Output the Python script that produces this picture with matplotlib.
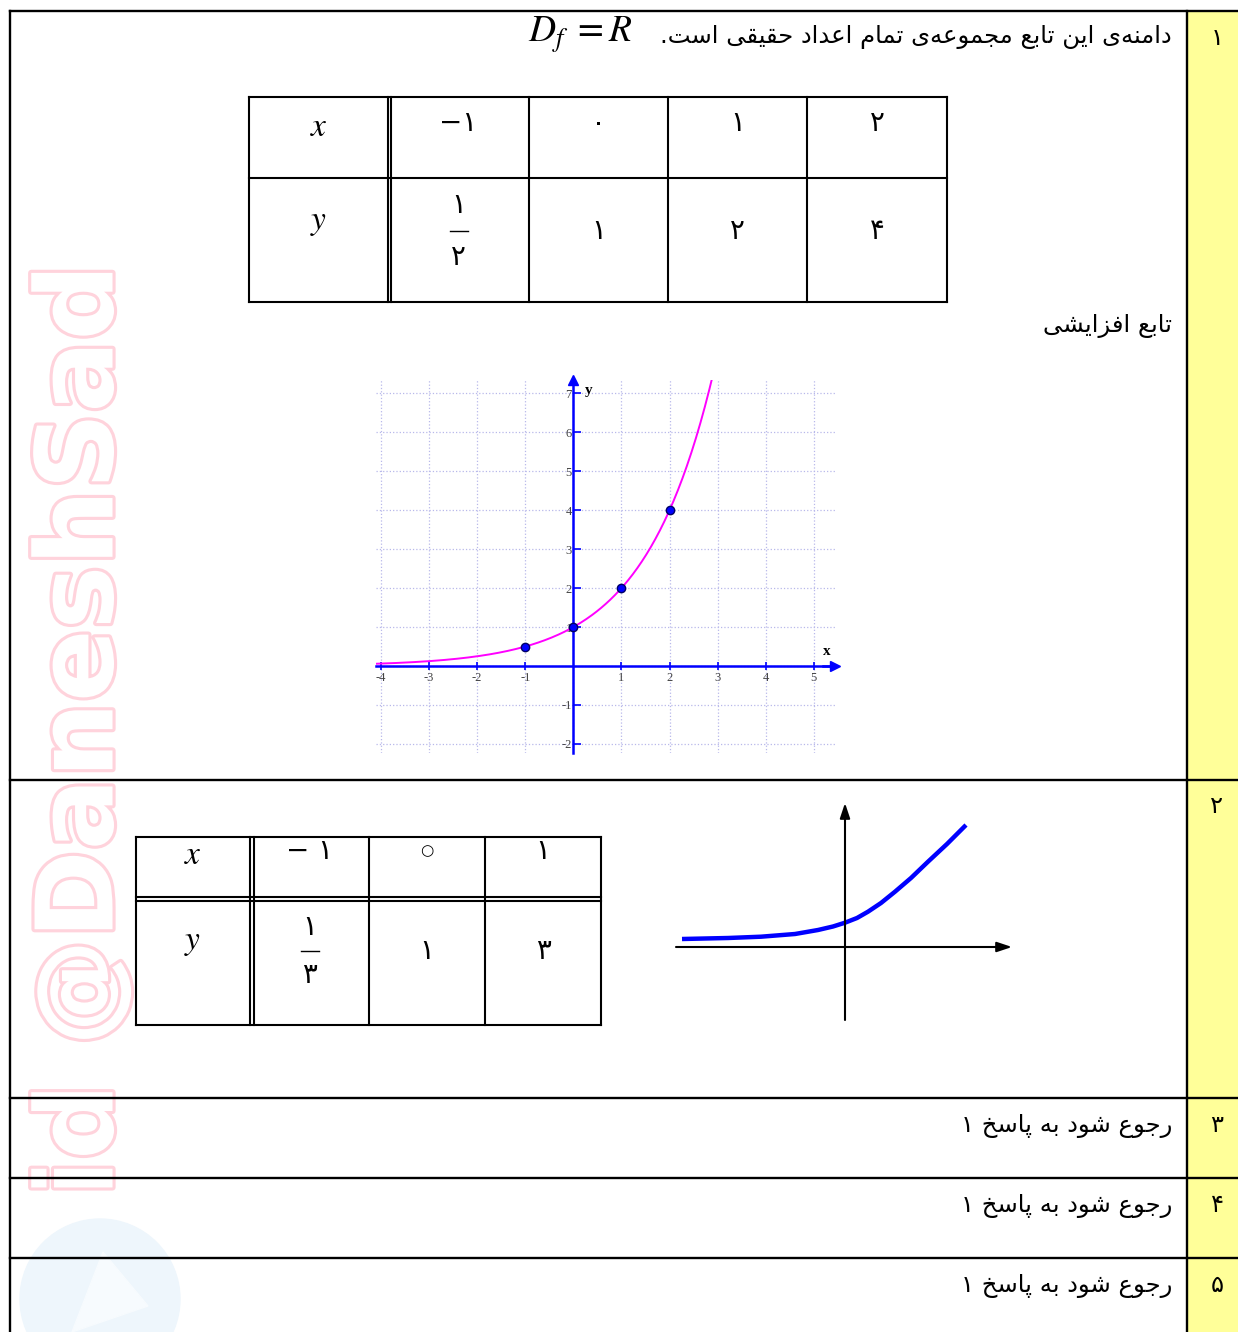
import numpy as np
import matplotlib
matplotlib.use("Agg")
import matplotlib.pyplot as plt
import matplotlib.patheffects as pe
from matplotlib.patches import Rectangle, Circle, Polygon

plt.rcParams['mathtext.fontset'] = 'stix'

# --- data -------------------------------------------------------------
row_numbers = [1, 2, 3, 4, 5]
sentence_1 = "دامنه\u200cی این تابع مجموعه\u200cی تمام اعداد حقیقی است."
label_increasing = "تابع افزایشی"
refer_text = "رجوع شود به پاسخ ۱"

# table 1  (y = 2^x)
t1_x = [-1, 0, 1, 2]
t1_y = ["1/2", "1", "2", "4"]
# table 2  (y = 3^x)
t2_x = ["− ۱", "○", "۱"]
t2_y = ["1/3", "1", "3"]

# plotted function and the marked points
base = 2
point_x = [-1, 0, 1, 2]
point_y = [0.5, 1, 2, 4]
x_ticks = [-4, -3, -2, -1, 1, 2, 3, 4, 5]
y_ticks = [-2, -1, 1, 2, 3, 4, 5, 6, 7]

# hand drawn sketch of question 2 (axis units = px)
sketch_x = [-163, -117, -84, -50, -27, -12, 0, 12, 23, 36, 50, 66, 83, 102, 121]
sketch_y = [8, 9, 10.3, 13, 17, 20.5, 24.3, 29, 35.3, 44, 55.3, 69, 85.3, 103, 122]

# --- persian shaping (matplotlib has no bidi/shaping) --------------------
FORMS = {
    'ا': ('\uFE8D', '\uFE8E', None, None),
    'د': ('\uFEA9', '\uFEAA', None, None),
    'ر': ('\uFEAD', '\uFEAE', None, None),
    'ز': ('\uFEAF', '\uFEB0', None, None),
    'و': ('\uFEED', '\uFEEE', None, None),
    'ب': ('\uFE8F', '\uFE90', '\uFE91', '\uFE92'),
    'ت': ('\uFE95', '\uFE96', '\uFE97', '\uFE98'),
    'ج': ('\uFE9D', '\uFE9E', '\uFE9F', '\uFEA0'),
    'ح': ('\uFEA1', '\uFEA2', '\uFEA3', '\uFEA4'),
    'خ': ('\uFEA5', '\uFEA6', '\uFEA7', '\uFEA8'),
    'س': ('\uFEB1', '\uFEB2', '\uFEB3', '\uFEB4'),
    'ش': ('\uFEB5', '\uFEB6', '\uFEB7', '\uFEB8'),
    'ع': ('\uFEC9', '\uFECA', '\uFECB', '\uFECC'),
    'ف': ('\uFED1', '\uFED2', '\uFED3', '\uFED4'),
    'ق': ('\uFED5', '\uFED6', '\uFED7', '\uFED8'),
    'م': ('\uFEE1', '\uFEE2', '\uFEE3', '\uFEE4'),
    'ن': ('\uFEE5', '\uFEE6', '\uFEE7', '\uFEE8'),
    'ه': ('\uFEE9', '\uFEEA', '\uFEEB', '\uFEEC'),
    'ی': ('\uFBFC', '\uFBFD', '\uFBFE', '\uFBFF'),
    'پ': ('\uFB56', '\uFB57', '\uFB58', '\uFB59'),
}


def fa(text):
    out = []
    for i, ch in enumerate(text):
        if ch == '\u200c':
            continue
        if ch not in FORMS:
            out.append(ch)
            continue
        prev = text[i - 1] if i > 0 else ''
        nxt = text[i + 1] if i < len(text) - 1 else ''
        jp = prev in FORMS and FORMS[prev][2] is not None
        jn = nxt in FORMS and FORMS[ch][2] is not None
        iso, fin, ini, med = FORMS[ch]
        if jp and jn:
            out.append(med)
        elif jp:
            out.append(fin)
        elif jn:
            out.append(ini)
        else:
            out.append(iso)
    return ''.join(reversed(out))


def fa_num(v):
    return str(v).translate(str.maketrans('0123456789-', '۰۱۲۳۴۵۶۷۸۹−'))


FA = 'DejaVu Sans'
TXT = 17.5
W, H = 1238, 1332
fig = plt.figure(figsize=(W / 100, H / 100), dpi=100)
ax = fig.add_axes([0, 0, 1, 1])
ax.set_xlim(0, W)
ax.set_ylim(H, 0)
ax.axis('off')

# watermark
ax.text(83, 730, 'id @DaneshSad', rotation=90, ha='center', va='center',
        fontsize=77, fontweight='bold', color='white', zorder=1,
        path_effects=[pe.withStroke(linewidth=4.5, foreground='#ffd3dc')])
ax.add_patch(Circle((100, 1299), 80, color='#eef6fc', zorder=1))
ax.add_patch(Polygon([[103, 1252], [148, 1306], [72, 1332]], closed=True,
                     color='#f7fbfe', zorder=1))

# frame
ax.add_patch(Rectangle((1187, 11), 60, H, color='#ffff99', zorder=0))
lw = 1.7
ax.plot([10, 10], [11, H], color='k', lw=lw, zorder=5)
ax.plot([1187, 1187], [11, H], color='k', lw=lw, zorder=5)
for yy in [11, 780, 1098, 1178, 1258]:
    ax.plot([10, W], [yy, yy], color='k', lw=lw, zorder=5)

row_y = [38, 806, 1125, 1205, 1285]
for n, yy in zip(row_numbers, row_y):
    ax.text(1217, yy, fa_num(n), ha='center', va='center', fontsize=TXT,
            family=FA, zorder=6)

# row 1 texts
ax.text(1172, 37, fa(sentence_1), ha='right', va='center', fontsize=TXT,
        family=FA, zorder=6)
ax.text(632, 35, r'$D_f\;=R$', ha='right', va='center', fontsize=27, zorder=6)
ax.text(1172, 326, fa(label_increasing), ha='right', va='center',
        fontsize=TXT, family=FA, zorder=6)
for yy in row_y[2:]:
    ax.text(1172, yy + 1, fa(refer_text), ha='right', va='center',
            fontsize=TXT, family=FA, zorder=6)


def draw_table(cols, rows, xs_vals, ys_vals, double_v, double_h, frac_dy,
               top_y, bot_y, fs):
    x0, x1 = cols[0], cols[-1]
    for r in rows:
        ax.plot([x0, x1], [r, r], color='k', lw=1.5, zorder=5)
    if double_h:
        ax.plot([x0, x1], [rows[1] + 4, rows[1] + 4], color='k', lw=1.5, zorder=5)
    for c in cols:
        ax.plot([c, c], [rows[0], rows[-1]], color='k', lw=1.5, zorder=5)
    ax.plot([cols[1] + double_v, cols[1] + double_v], [rows[0], rows[-1]],
            color='k', lw=1.5, zorder=5)
    cx = [(a + b) / 2 for a, b in zip(cols[:-1], cols[1:])]
    ax.text(cx[0], top_y, r'$x$', ha='center', va='center', fontsize=24, zorder=6)
    ax.text(cx[0], bot_y - 10, r'$y$', ha='center', va='center', fontsize=24,
            zorder=6)
    for c, v in zip(cx[1:], xs_vals):
        size = fs * 0.55 if v == '○' else fs
        ax.text(c, top_y - 4, v, ha='center', va='center', fontsize=size,
                family=FA, zorder=6)
    for c, v in zip(cx[1:], ys_vals):
        if '/' in v:
            num, den = v.split('/')
            ax.text(c, bot_y - frac_dy, fa_num(num), ha='center', va='center',
                    fontsize=fs, family=FA, zorder=6)
            ax.text(c, bot_y + frac_dy, fa_num(den), ha='center', va='center',
                    fontsize=fs, family=FA, zorder=6)
            ax.plot([c - 9, c + 9], [bot_y, bot_y], color='k', lw=1, zorder=6)
        else:
            ax.text(c, bot_y, fa_num(v), ha='center', va='center',
                    fontsize=fs, family=FA, zorder=6)


draw_table([249, 388, 529, 668, 807, 947], [97, 178, 302],
           [fa_num(v) for v in t1_x], t1_y, 3, False, 26, 127, 231, 20)
draw_table([136, 250, 369, 485, 601], [837, 897, 1025],
           t2_x, t2_y, 4, True, 24, 855, 951, 20)

# plot of y = 2^x
pl, pr, pt, pb = 375.7, 835, 380, 753.3
gx = fig.add_axes([pl / W, 1 - pb / H, (pr - pl) / W, (pb - pt) / H])
gx.set_xlim(-4.11, 5.44)
gx.set_ylim(-2.24, 7.34)
gx.patch.set_alpha(0)
for s in ['top', 'right']:
    gx.spines[s].set_visible(False)
for s in ['left', 'bottom']:
    gx.spines[s].set_position(('data', 0))
    gx.spines[s].set_color('#0000ff')
    gx.spines[s].set_linewidth(1.8)
gx.set_xticks(x_ticks)
gx.set_yticks(y_ticks)
gx.set_xticklabels([str(v) for v in x_ticks], family='Liberation Serif',
                   fontsize=9, color='#444444')
gx.set_yticklabels([str(v) for v in y_ticks], family='Liberation Serif',
                   fontsize=9, color='#444444')
gx.tick_params(axis='x', direction='inout', length=6, color='#0000ff',
               width=1.2, pad=1)
gx.tick_params(axis='y', direction='in', length=6, color='#0000ff',
               width=1.2, pad=1)
for v in range(-4, 6):
    gx.axvline(v, color='#b8b8ea', lw=0.9, ls=':', zorder=0)
for v in range(-2, 8):
    gx.axhline(v, color='#b8b8ea', lw=0.9, ls=':', zorder=0)
gx.plot([5.2, 5.44], [0, 0], color='#0000ff', lw=1.8, clip_on=False)
gx.plot([5.44], [0], marker='>', color='#0000ff', ms=7, clip_on=False)
gx.plot([0], [7.34], marker='^', color='#0000ff', ms=7, clip_on=False)
xs = np.linspace(-4.11, 2.9, 300)
gx.plot(xs, np.power(base, xs), color='#ff00ff', lw=1.4, zorder=3)
gx.plot(point_x, point_y, 'o', color='#0000ff', mec='#000066', ms=6, zorder=4)
gx.text(5.27, 0.37, 'x', family='Liberation Serif', fontweight='bold',
        fontsize=11, ha='center', va='center')
gx.text(0.31, 7.07, 'y', family='Liberation Serif', fontweight='bold',
        fontsize=11, ha='center', va='center')

# sketch of question 2
ox, oy = 845, 947
sl, sr, st, sb = 670, 1020, 795, 1025
sx = fig.add_axes([sl / W, 1 - sb / H, (sr - sl) / W, (sb - st) / H])
sx.set_xlim(sl - ox, sr - ox)
sx.set_ylim(oy - sb, oy - st)
sx.axis('off')
sx.patch.set_alpha(0)
sx.annotate('', xy=(167, 0), xytext=(-169, 0),
            arrowprops=dict(arrowstyle='-|>,head_length=0.9,head_width=0.3',
                            color='k', lw=1.5, shrinkA=0, shrinkB=0))
sx.annotate('', xy=(0, 144), xytext=(0, -73),
            arrowprops=dict(arrowstyle='-|>,head_length=0.9,head_width=0.3',
                            color='k', lw=1.5, shrinkA=0, shrinkB=0))
sx.plot(sketch_x, sketch_y, color='#0000ff', lw=3.2, solid_capstyle='butt',
        solid_joinstyle='round')

fig.savefig('out.png', dpi=100)
